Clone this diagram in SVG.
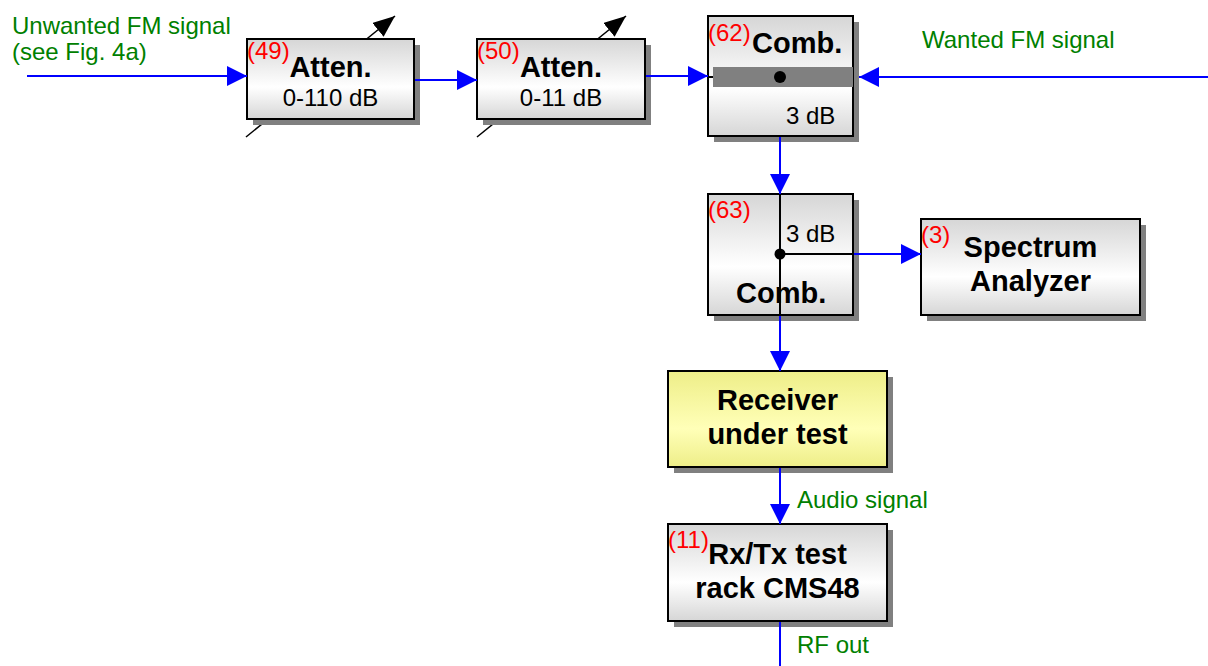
<svg xmlns="http://www.w3.org/2000/svg" width="1208" height="666" viewBox="0 0 1208 666">
<style>
.box{stroke:#000;stroke-width:2}
.shadow{fill:#808080}
.gray{fill:url(#gGray)}
.yel{fill:url(#gYel)}
.wire{stroke:#0000ff;stroke-width:2;fill:none}
.blk{stroke:#000;stroke-width:2;fill:none}
.num{font-family:"Liberation Sans",Arial,sans-serif;font-size:24px;fill:#ff0000}
.bold{font-family:"Liberation Sans",Arial,sans-serif;font-size:29px;font-weight:bold;fill:#000}
.reg{font-family:"Liberation Sans",Arial,sans-serif;font-size:24px;fill:#000}
.lbl{font-family:"Liberation Sans",Arial,sans-serif;font-size:24px;fill:#008000}
.mid{text-anchor:middle}
</style>
<defs>
<linearGradient id="gGray" x1="0" y1="0" x2="0" y2="1">
<stop offset="0" stop-color="#d6d6d6"/>
<stop offset="0.6" stop-color="#ffffff"/>
<stop offset="1" stop-color="#d6d6d6"/>
</linearGradient>
<linearGradient id="gYel" x1="0" y1="0" x2="0" y2="1">
<stop offset="0" stop-color="#eeee88"/>
<stop offset="0.6" stop-color="#ffffb8"/>
<stop offset="1" stop-color="#eeee88"/>
</linearGradient>
<marker id="arrB" viewBox="0 0 20 20" refX="20" refY="10" markerWidth="20" markerHeight="20" markerUnits="userSpaceOnUse" orient="auto">
<path d="M0,0 L20,10 L0,20 Z" fill="#0000ff"/>
</marker>
<marker id="arrK" viewBox="0 0 22 18" refX="22" refY="9" markerWidth="22" markerHeight="18" markerUnits="userSpaceOnUse" orient="auto">
<path d="M0,0 L22,9 L0,18 Z" fill="#000"/>
</marker>
</defs>
<rect width="1208" height="666" fill="#ffffff"/>

<g id="variable-arrows">
<line x1="246" y1="137" x2="395" y2="16" stroke="#000" stroke-width="1.5" marker-end="url(#arrK)"/>
<line x1="477" y1="137" x2="626" y2="16" stroke="#000" stroke-width="1.5" marker-end="url(#arrK)"/>
</g>

<g id="n49">
<rect x="253" y="45" width="167" height="80" class="shadow"/>
<rect x="247" y="39" width="167" height="80" class="box gray"/>
<text x="247" y="59" class="num">(49)</text>
<text x="330.5" y="77" class="bold mid">Atten.</text>
<text x="330.5" y="106" class="reg mid">0-110 dB</text>
</g>

<g id="n50">
<rect x="483" y="45" width="168" height="80" class="shadow"/>
<rect x="477" y="39" width="168" height="80" class="box gray"/>
<text x="477" y="59" class="num">(50)</text>
<text x="561" y="77" class="bold mid">Atten.</text>
<text x="561" y="106" class="reg mid">0-11 dB</text>
</g>

<g id="n62">
<rect x="714" y="22" width="145" height="120" class="shadow"/>
<rect x="708" y="16" width="145" height="120" class="box gray"/>
<rect x="713" y="67" width="140" height="20" fill="#808080"/>
<line x1="708" y1="77" x2="713" y2="77" class="blk"/>
<circle cx="780" cy="77" r="6" fill="#000"/>
<text x="708" y="41" class="num">(62)</text>
<text x="752" y="53" class="bold">Comb.</text>
<text x="786" y="124" class="reg">3 dB</text>
</g>

<g id="n63">
<rect x="714" y="200" width="145" height="121" class="shadow"/>
<rect x="708" y="194" width="145" height="121" class="box gray"/>
<text x="708" y="218" class="num">(63)</text>
<text x="786" y="242" class="reg">3 dB</text>
<text x="736" y="303" class="bold">Comb.</text>
<line x1="780" y1="194" x2="780" y2="315" class="blk"/>
<line x1="780" y1="254" x2="853" y2="254" class="blk"/>
<circle cx="780" cy="254" r="5.5" fill="#000"/>
</g>

<g id="n3">
<rect x="927" y="225" width="219" height="96" class="shadow"/>
<rect x="921" y="219" width="219" height="96" class="box gray"/>
<text x="921" y="243" class="num">(3)</text>
<text x="1030.5" y="257" class="bold mid">Spectrum</text>
<text x="1030.5" y="291" class="bold mid">Analyzer</text>
</g>

<g id="receiver">
<rect x="674" y="377" width="219" height="96" class="shadow"/>
<rect x="668" y="371" width="219" height="96" class="box yel"/>
<text x="777.5" y="410" class="bold mid">Receiver</text>
<text x="777.5" y="444" class="bold mid">under test</text>
</g>

<g id="n11">
<rect x="674" y="530" width="219" height="97" class="shadow"/>
<rect x="668" y="524" width="219" height="97" class="box gray"/>
<text x="668" y="548" class="num">(11)</text>
<text x="777.5" y="564" class="bold mid">Rx/Tx test</text>
<text x="777.5" y="598" class="bold mid">rack CMS48</text>
</g>

<g id="connectors">
<line x1="27" y1="76" x2="247" y2="76" class="wire" marker-end="url(#arrB)"/>
<line x1="415" y1="80" x2="477" y2="80" class="wire" marker-end="url(#arrB)"/>
<line x1="646" y1="76" x2="708" y2="76" class="wire" marker-end="url(#arrB)"/>
<line x1="1208" y1="77" x2="859" y2="77" class="wire" marker-end="url(#arrB)"/>
<line x1="780" y1="137" x2="780" y2="194" class="wire" marker-end="url(#arrB)"/>
<line x1="854" y1="254" x2="921" y2="254" class="wire" marker-end="url(#arrB)"/>
<line x1="780" y1="316" x2="780" y2="371" class="wire" marker-end="url(#arrB)"/>
<line x1="780" y1="468" x2="780" y2="524" class="wire" marker-end="url(#arrB)"/>
<line x1="780" y1="622" x2="780" y2="666" class="wire"/>
</g>

<g id="labels">
<text x="12" y="34" class="lbl">Unwanted FM signal</text>
<text x="12" y="60" class="lbl">(see Fig. 4a)</text>
<text x="922" y="48" class="lbl">Wanted FM signal</text>
<text x="797" y="508" class="lbl">Audio signal</text>
<text x="797" y="653" class="lbl">RF out</text>
</g>
</svg>
